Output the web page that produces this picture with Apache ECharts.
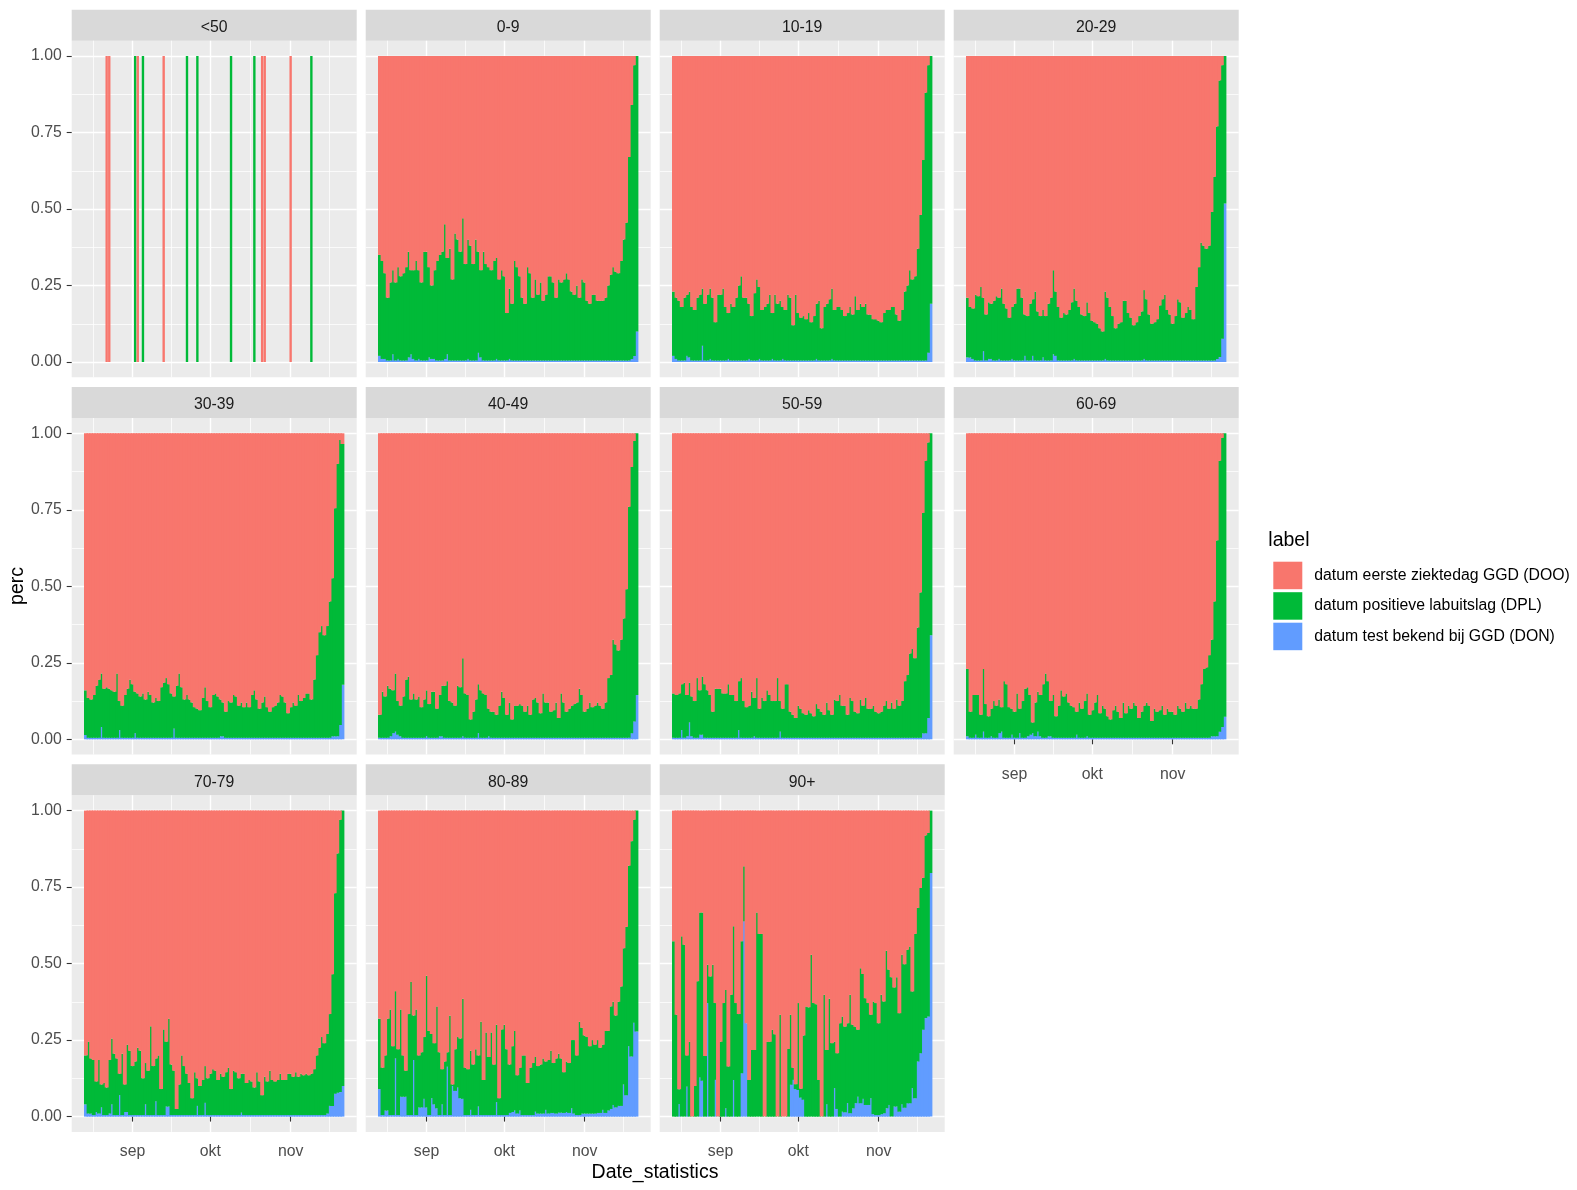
<!DOCTYPE html>
<html>
<head>
<meta charset="utf-8">
<script src="https://cdn.jsdelivr.net/npm/echarts@6/dist/echarts.min.js"></script>
<style>html,body{margin:0;padding:0;background:#ffffff}#c{width:1577px;height:1190px}</style>
</head>
<body>
<div id="c"></div>
<script>
// ---------------- data ----------------
const facetNames = ['<50','0-9','10-19','20-29','30-39','40-49','50-59','60-69','70-79','80-89','90+'];
const seriesNames = ['datum eerste ziektedag GGD (DOO)','datum positieve labuitslag (DPL)','datum test bekend bij GGD (DON)'];
const seriesColors = ['#F8766D','#00BA38','#619CFF'];
const tickDates = ['2020-09-01','2020-10-01','2020-11-01'];
const tickLabels = ['sep','okt','nov'];
const axisFirstDay = '2020-08-09', axisDayCount = 110;
const dataFirstDay = '2020-08-14', dataDayCount = 100;

// <50 : only a few days
const lt50Dates = ['2020-08-22','2020-08-23','2020-09-02','2020-09-03','2020-09-05','2020-09-13','2020-09-22','2020-09-26','2020-10-09','2020-10-18','2020-10-21','2020-10-22','2020-11-01','2020-11-09'];
const lt50DOO = [1,1,0,1,0,1,0,0,0,0,1,1,1,0];
const lt50DPL = [0,0,1,0,1,0,1,1,1,1,0,0,0,1];
const lt50DON = [0,0,0,0,0,0,0,0,0,0,0,0,0,0];

const DOO_0_9 = [.65,.67,.71,.79,.74,.70,.74,.69,.72,.71, .69,.64,.70,.70,.67,.70,.74,.64,.64,.69, .75,.70,.67,.65,.64,.55,.66,.63,.73,.58, .60,.64,.53,.68,.60,.62,.68,.60,.64,.70, .64,.68,.69,.70,.67,.66,.73,.70,.72,.84, .76,.81,.67,.69,.72,.79,.81,.69,.71,.79, .73,.78,.74,.80,.78,.72,.72,.74,.79,.73, .74,.73,.71,.73,.77,.78,.75,.79,.73,.74, .80,.81,.78,.78,.80,.80,.80,.79,.75,.715, .69,.705,.71,.67,.60,.545,.33,.16,.03,0];
const DPL_0_9 = [.33,.32,.28,.205,.255,.275,.255,.30,.275,.285, .305,.345,.275,.29,.325,.29,.255,.355,.355,.295, .24,.29,.325,.345,.355,.44,.315,.365,.265,.415, .395,.355,.465,.315,.39,.375,.315,.395,.33,.285, .355,.315,.305,.295,.325,.33,.265,.295,.275,.155, .23,.185,.325,.305,.275,.205,.185,.305,.285,.205, .265,.215,.255,.195,.215,.275,.275,.255,.205,.265, .255,.265,.285,.265,.225,.215,.245,.205,.265,.255, .195,.185,.215,.215,.195,.195,.195,.205,.245,.28, .305,.29,.285,.325,.395,.45,.665,.83,.95,.90];
const DON_0_9 = [.02,.01,.01,.005,.005,.025,.005,.01,.005,.005, .005,.015,.025,.01,.005,.01,.005,.005,.005,.015, .01,.01,.005,.005,.005,.01,.025,.005,.005,.005, .005,.005,.005,.005,.01,.005,.005,.005,.03,.015, .005,.005,.005,.005,.005,.01,.005,.005,.005,.005, .01,.005,.005,.005,.005,.005,.005,.005,.005,.005, .005,.005,.005,.005,.005,.005,.005,.005,.005,.005, .005,.005,.005,.005,.005,.005,.005,.005,.005,.005, .005,.005,.005,.005,.005,.005,.005,.005,.005,.005, .005,.005,.005,.005,.005,.005,.005,.01,.02,.10];

const DOO_10_19 = [.77,.79,.80,.82,.79,.78,.77,.82,.83,.79, .78,.76,.81,.78,.76,.79,.87,.78,.78,.76, .82,.84,.81,.82,.79,.75,.72,.79,.79,.81, .85,.775,.73,.755,.83,.82,.81,.78,.84,.78, .81,.80,.82,.83,.78,.79,.88,.78,.84,.855, .85,.86,.84,.87,.85,.81,.80,.89,.82,.81, .795,.76,.83,.82,.82,.83,.85,.84,.82,.845, .785,.83,.81,.82,.81,.845,.845,.86,.86,.865, .87,.84,.83,.83,.82,.82,.845,.865,.83,.77, .75,.70,.73,.72,.63,.52,.34,.12,.03,0];
const DPL_10_19 = [.21,.20,.195,.175,.205,.20,.215,.175,.165,.205, .215,.187,.185,.215,.23,.205,.125,.215,.215,.235, .175,.15,.185,.175,.205,.245,.275,.205,.205,.18, .145,.22,.265,.235,.165,.175,.185,.215,.15,.215, .185,.195,.17,.165,.215,.205,.115,.215,.155,.14, .145,.135,.155,.125,.145,.18,.195,.105,.175,.185, .20,.23,.165,.175,.175,.165,.145,.155,.175,.15, .21,.165,.185,.175,.185,.15,.15,.135,.135,.13, .125,.155,.165,.165,.175,.175,.15,.13,.165,.225, .245,.295,.265,.275,.365,.475,.655,.875,.94,.81];
const DON_10_19 = [.02,.01,.005,.005,.005,.02,.015,.005,.005,.005, .005,.053,.005,.005,.01,.005,.005,.005,.005,.005, .005,.01,.005,.005,.005,.005,.005,.005,.005,.01, .005,.005,.005,.01,.005,.005,.005,.005,.01,.005, .005,.005,.01,.005,.005,.005,.005,.005,.005,.005, .005,.005,.005,.005,.005,.01,.005,.005,.005,.005, .005,.01,.005,.005,.005,.005,.005,.005,.005,.005, .005,.005,.005,.005,.005,.005,.005,.005,.005,.005, .005,.005,.005,.005,.005,.005,.005,.005,.005,.005, .005,.005,.005,.005,.005,.005,.005,.005,.03,.19];

const DOO_20_29 = [.79,.82,.825,.78,.785,.755,.79,.845,.805,.81, .80,.785,.79,.76,.81,.825,.855,.82,.81,.76, .76,.79,.845,.85,.81,.795,.77,.835,.85,.83, .85,.81,.79,.70,.77,.82,.855,.84,.845,.83, .805,.76,.80,.82,.845,.85,.805,.84,.865,.87, .875,.89,.90,.77,.79,.82,.85,.89,.875,.87, .80,.80,.84,.855,.88,.87,.85,.835,.765,.795, .845,.875,.87,.86,.815,.795,.78,.83,.845,.875, .85,.795,.805,.855,.84,.82,.83,.86,.755,.69, .61,.62,.63,.62,.51,.395,.23,.08,.03,0];
const DPL_20_29 = [.195,.165,.165,.215,.21,.24,.175,.15,.185,.18, .195,.21,.20,.235,.185,.17,.14,.17,.185,.235, .235,.205,.135,.145,.185,.185,.225,.16,.145,.155, .145,.185,.205,.275,.21,.175,.14,.155,.15,.165, .19,.23,.195,.175,.15,.145,.19,.155,.13,.125, .12,.105,.095,.22,.205,.175,.145,.105,.12,.125, .195,.195,.155,.14,.115,.125,.145,.16,.225,.20, .15,.12,.125,.135,.18,.20,.215,.165,.15,.12, .145,.20,.19,.14,.155,.175,.165,.135,.24,.305, .385,.375,.365,.375,.485,.60,.76,.904,.894,.482];
const DON_20_29 = [.015,.015,.01,.005,.005,.005,.035,.005,.01,.01, .005,.005,.01,.005,.005,.005,.005,.01,.005,.005, .005,.005,.02,.005,.005,.02,.005,.005,.005,.015, .005,.005,.005,.025,.02,.005,.005,.005,.005,.005, .005,.01,.005,.005,.005,.005,.005,.005,.005,.005, .005,.005,.005,.01,.005,.005,.005,.005,.005,.005, .005,.005,.005,.005,.005,.005,.005,.005,.01,.005, .005,.005,.005,.005,.005,.005,.005,.005,.005,.005, .005,.005,.005,.005,.005,.005,.005,.005,.005,.005, .005,.005,.005,.005,.005,.005,.01,.016,.076,.518];

const DOO_30_39 = [.84,.865,.87,.855,.825,.805,.785,.835,.83,.835, .84,.845,.785,.875,.89,.855,.835,.805,.82,.845, .85,.86,.85,.87,.845,.855,.88,.865,.875,.83, .815,.80,.82,.85,.86,.825,.785,.83,.87,.855, .87,.88,.895,.90,.905,.865,.83,.875,.895,.855, .85,.86,.87,.88,.91,.875,.88,.855,.86,.89, .88,.895,.88,.895,.855,.84,.87,.90,.88,.86, .895,.91,.895,.89,.88,.855,.86,.88,.915,.895, .88,.89,.855,.875,.865,.85,.85,.87,.805,.725, .65,.63,.66,.63,.55,.474,.245,.10,.022,.035];
const DPL_30_39 = [.146,.13,.125,.14,.17,.19,.175,.16,.165,.16, .155,.15,.21,.095,.105,.14,.16,.19,.175,.135, .145,.135,.145,.125,.15,.14,.115,.13,.12,.165, .18,.195,.175,.145,.105,.17,.21,.165,.125,.14, .125,.115,.10,.095,.09,.13,.165,.12,.10,.14, .145,.135,.12,.11,.085,.12,.115,.14,.135,.105, .115,.10,.115,.10,.14,.155,.125,.095,.115,.135, .10,.085,.10,.105,.115,.14,.135,.115,.08,.10, .115,.105,.14,.12,.13,.145,.145,.125,.19,.27, .345,.365,.335,.365,.445,.516,.745,.89,.931,.787];
const DON_30_39 = [.014,.005,.005,.005,.005,.005,.04,.005,.005,.005, .005,.005,.005,.03,.005,.005,.005,.005,.005,.02, .005,.005,.005,.005,.005,.005,.005,.005,.005,.005, .005,.005,.005,.005,.035,.005,.005,.005,.005,.005, .005,.005,.005,.005,.005,.005,.005,.005,.005,.005, .005,.005,.01,.01,.005,.005,.005,.005,.005,.005, .005,.005,.005,.005,.005,.005,.005,.005,.005,.005, .005,.005,.005,.005,.005,.005,.005,.005,.005,.005, .005,.005,.005,.005,.005,.005,.005,.005,.005,.005, .005,.005,.005,.005,.005,.01,.01,.01,.047,.178];

const DOO_40_49 = [.92,.845,.86,.825,.835,.84,.785,.875,.89,.86, .805,.795,.87,.85,.87,.86,.895,.87,.84,.885, .845,.845,.90,.855,.825,.825,.81,.875,.88,.89, .825,.83,.735,.85,.855,.935,.91,.87,.82,.84, .85,.855,.90,.91,.91,.92,.89,.845,.865,.92, .88,.935,.89,.89,.885,.89,.91,.89,.92,.87, .865,.88,.915,.85,.88,.88,.91,.905,.88,.93, .85,.88,.91,.90,.89,.885,.88,.835,.855,.91, .90,.88,.895,.89,.88,.89,.90,.88,.80,.79, .675,.69,.71,.675,.605,.51,.24,.11,.025,0];
const DPL_40_49 = [.075,.15,.135,.17,.155,.14,.19,.11,.10,.135, .19,.20,.125,.145,.125,.135,.10,.125,.15,.11, .15,.15,.095,.135,.165,.17,.185,.12,.115,.105, .17,.165,.255,.145,.14,.06,.085,.125,.16,.155, .145,.14,.09,.085,.085,.075,.105,.15,.13,.075, .115,.06,.105,.105,.11,.105,.085,.105,.075,.125, .13,.115,.08,.145,.115,.115,.085,.09,.115,.065, .145,.115,.085,.095,.105,.11,.115,.16,.14,.085, .095,.115,.10,.105,.115,.105,.095,.115,.195,.205, .32,.305,.285,.32,.39,.485,.755,.87,.917,.855];
const DON_40_49 = [.005,.005,.005,.005,.01,.02,.025,.015,.01,.005, .005,.005,.005,.005,.005,.005,.005,.005,.01,.005, .005,.005,.005,.01,.01,.005,.005,.005,.005,.005, .005,.005,.01,.005,.005,.005,.005,.005,.02,.005, .005,.005,.01,.005,.005,.005,.005,.005,.005,.005, .005,.005,.005,.005,.005,.005,.005,.005,.005,.005, .005,.005,.005,.005,.005,.005,.005,.005,.005,.005, .005,.005,.005,.005,.005,.005,.005,.005,.005,.005, .005,.005,.005,.005,.005,.005,.005,.005,.005,.005, .005,.005,.005,.005,.005,.005,.005,.02,.058,.145];

const DOO_50_59 = [.85,.855,.85,.82,.815,.855,.815,.86,.875,.80, .84,.795,.82,.84,.855,.91,.835,.835,.835,.85, .85,.82,.855,.855,.875,.81,.80,.875,.895,.89, .845,.865,.80,.90,.865,.875,.84,.855,.875,.875, .80,.875,.90,.82,.82,.91,.92,.93,.89,.90, .915,.92,.905,.915,.925,.885,.90,.91,.92,.88, .905,.92,.87,.875,.855,.89,.89,.92,.865,.875, .91,.915,.87,.89,.865,.90,.90,.89,.91,.915, .91,.89,.875,.90,.88,.90,.87,.89,.875,.81, .79,.72,.705,.735,.635,.52,.26,.09,.03,0];
const DPL_50_59 = [.145,.14,.145,.15,.18,.135,.13,.13,.12,.195, .145,.19,.175,.155,.14,.085,.16,.16,.16,.145, .145,.175,.14,.14,.12,.16,.195,.12,.10,.105, .15,.125,.195,.095,.13,.12,.155,.14,.12,.12, .195,.10,.095,.175,.175,.085,.075,.065,.105,.095, .08,.075,.09,.08,.07,.11,.095,.085,.075,.115, .09,.075,.125,.12,.14,.105,.105,.075,.13,.12, .085,.08,.125,.105,.13,.095,.095,.105,.085,.08, .085,.105,.12,.095,.115,.095,.125,.105,.12,.185, .205,.275,.29,.26,.36,.475,.72,.89,.90,.66];
const DON_50_59 = [.005,.005,.005,.03,.005,.01,.055,.01,.005,.005, .015,.015,.005,.005,.005,.005,.005,.005,.005,.005, .005,.005,.005,.005,.005,.03,.005,.005,.005,.005, .005,.01,.005,.005,.005,.005,.005,.005,.005,.005, .005,.025,.005,.005,.005,.005,.005,.005,.005,.005, .005,.005,.005,.005,.005,.005,.005,.005,.005,.005, .005,.005,.005,.005,.005,.005,.005,.005,.005,.005, .005,.005,.005,.005,.005,.005,.005,.005,.005,.005, .005,.005,.005,.005,.005,.005,.005,.005,.005,.005, .005,.005,.005,.005,.005,.005,.02,.02,.07,.34];

const DOO_60_69 = [.77,.91,.855,.855,.855,.92,.77,.885,.925,.90, .875,.89,.87,.895,.81,.82,.895,.90,.91,.85, .90,.875,.835,.83,.855,.945,.88,.845,.855,.82, .785,.81,.875,.855,.925,.89,.84,.86,.85,.88, .89,.895,.91,.88,.90,.875,.85,.92,.905,.88, .855,.915,.89,.90,.925,.935,.905,.89,.91,.93, .88,.915,.89,.90,.88,.89,.93,.91,.89,.88, .89,.94,.90,.91,.905,.89,.92,.90,.91,.91, .92,.89,.90,.91,.88,.90,.89,.90,.90,.87, .82,.77,.765,.725,.675,.55,.35,.09,.015,0];
const DPL_60_69 = [.22,.085,.14,.13,.14,.075,.205,.11,.07,.09, .12,.105,.11,.08,.185,.175,.10,.085,.085,.145, .08,.12,.16,.16,.13,.035,.11,.13,.135,.175, .21,.18,.115,.14,.07,.105,.155,.135,.145,.115, .105,.10,.075,.115,.095,.12,.14,.075,.09,.115, .14,.08,.105,.095,.07,.06,.09,.105,.085,.065, .115,.08,.105,.095,.115,.105,.065,.085,.105,.115, .105,.055,.095,.085,.09,.105,.075,.095,.085,.085, .075,.105,.095,.085,.115,.095,.105,.095,.095,.125, .175,.225,.23,.27,.315,.44,.64,.885,.945,.926];
const DON_60_69 = [.01,.005,.005,.015,.005,.005,.025,.005,.005,.01, .005,.005,.02,.025,.005,.005,.005,.015,.005,.005, .02,.005,.005,.01,.015,.02,.01,.025,.01,.005, .005,.01,.01,.005,.005,.005,.005,.005,.005,.005, .005,.005,.015,.005,.005,.005,.01,.005,.005,.005, .005,.005,.005,.005,.005,.005,.005,.005,.005,.005, .005,.005,.005,.005,.005,.005,.005,.005,.005,.005, .005,.005,.005,.005,.005,.005,.005,.005,.005,.005, .005,.005,.005,.005,.005,.005,.005,.005,.005,.005, .005,.005,.005,.005,.01,.01,.01,.025,.04,.074];

const DOO_70_79 = [.80,.755,.81,.815,.885,.815,.895,.89,.905,.815, .745,.795,.81,.86,.795,.895,.765,.785,.835,.82, .775,.785,.875,.825,.85,.705,.835,.81,.80,.91, .715,.755,.68,.83,.85,.975,.895,.80,.835,.86, .89,.94,.855,.875,.90,.88,.835,.875,.86,.845, .85,.88,.86,.87,.855,.84,.91,.85,.855,.875, .86,.86,.89,.88,.885,.905,.855,.885,.93,.87, .885,.85,.88,.885,.88,.86,.88,.88,.86,.86, .87,.855,.87,.86,.865,.86,.865,.86,.845,.80, .775,.74,.76,.73,.665,.535,.27,.14,.03,0];
const DPL_70_79 = [.16,.235,.18,.18,.10,.175,.075,.105,.09,.175, .215,.20,.185,.07,.20,.09,.22,.21,.16,.175, .22,.21,.12,.135,.145,.29,.16,.14,.195,.085, .28,.212,.287,.165,.145,.02,.10,.195,.16,.135, .105,.055,.14,.09,.095,.115,.12,.12,.135,.15, .145,.115,.135,.125,.14,.155,.085,.145,.14,.12, .127,.135,.105,.115,.11,.09,.14,.11,.065,.125, .11,.145,.115,.11,.115,.135,.115,.115,.135,.135, .125,.14,.125,.135,.13,.135,.13,.135,.15,.195, .22,.255,.235,.26,.30,.43,.655,.782,.89,.90];
const DON_70_79 = [.04,.01,.01,.005,.015,.01,.03,.005,.005,.01, .04,.005,.005,.07,.005,.015,.015,.005,.005,.005, .005,.005,.005,.04,.005,.005,.005,.05,.005,.005, .005,.033,.033,.005,.005,.005,.005,.005,.005,.005, .005,.005,.005,.035,.005,.005,.045,.005,.005,.005, .005,.005,.005,.005,.005,.005,.005,.005,.005,.005, .013,.005,.005,.005,.005,.005,.005,.005,.005,.005, .005,.005,.005,.005,.005,.005,.005,.005,.005,.005, .005,.005,.005,.005,.005,.005,.005,.005,.005,.005, .005,.005,.005,.01,.035,.035,.075,.078,.08,.10];

const DOO_80_89 = [.68,.84,.80,.68,.65,.77,.59,.78,.65,.80, .85,.665,.56,.67,.65,.80,.79,.74,.54,.72, .73,.76,.64,.79,.845,.82,.79,.67,.895,.78, .74,.745,.615,.84,.845,.785,.83,.78,.80,.69, .88,.725,.805,.725,.83,.70,.94,.715,.70,.78, .83,.77,.72,.865,.84,.80,.80,.89,.84,.825, .805,.835,.83,.81,.82,.815,.785,.825,.81,.795, .81,.855,.82,.825,.75,.75,.80,.69,.71,.735, .74,.77,.75,.765,.75,.775,.765,.72,.72,.64, .625,.67,.625,.575,.45,.38,.18,.10,.03,0];
const DPL_80_89 = [.23,.155,.18,.30,.345,.225,.22,.215,.285,.135, .085,.33,.435,.145,.345,.17,.18,.202,.43,.275, .21,.20,.333,.205,.115,.175,.047,.325,.005,.136, .165,.195,.327,.155,.15,.193,.165,.215,.167,.305, .115,.27,.19,.27,.165,.253,.055,.28,.295,.215, .158,.215,.26,.125,.14,.195,.195,.105,.155,.17, .179,.155,.16,.18,.158,.175,.203,.163,.18,.192, .177,.133,.165,.163,.223,.24,.195,.305,.28,.255, .25,.22,.24,.225,.238,.213,.213,.268,.26,.335, .337,.30,.34,.39,.445,.55,.59,.704,.663,.722];
const DON_80_89 = [.09,.005,.02,.02,.005,.005,.19,.005,.065,.065, .065,.005,.005,.185,.005,.03,.03,.058,.03,.005, .06,.04,.027,.005,.04,.005,.163,.005,.10,.084, .095,.06,.058,.005,.005,.022,.005,.005,.033,.005, .005,.005,.005,.005,.005,.047,.005,.005,.005,.005, .012,.015,.02,.01,.02,.005,.005,.005,.005,.005, .016,.01,.01,.01,.022,.01,.012,.012,.01,.013, .013,.012,.015,.012,.027,.01,.005,.005,.01,.01, .01,.01,.01,.01,.012,.012,.022,.012,.02,.025, .038,.03,.035,.035,.105,.07,.23,.196,.307,.278];

const DOO_90 = [.427,.667,.911,.411,.438,.80,.755,1,.90,.558, .333,.333,.802,.504,.542,.504,.629,1,.755,.629, .586,.836,.602,.378,.629,.665,.427,.182,.695,.88, .782,.782,.333,.403,.403,1,.755,.755,.716,.731, 1,.667,1,1,.779,.667,.84,.894,.629,.909, .735,.64,.643,.471,.629,.633,.88,1,.602,.782, .615,.76,.755,.793,.695,.673,.706,.695,.602,.70, .706,.716,.515,.534,.613,.629,.667,.624,.629,.695, .602,.624,.458,.52,.545,.578,.545,.662,.471,.502, .455,.444,.591,.403,.318,.253,.22,.081,.073,0];
const DPL_90 = [.573,.333,.048,.589,.562,.102,.245,0,.10,.442, .539,.55,.198,.125,.458,.496,.251,0,.245,.371, .387,.164,.398,.502,.371,.335,.431,.18,0,.12, .218,.218,.667,.597,.597,0,.245,.245,.284,.269, 0,.333,0,0,.221,.229,.04,.016,.284,.029, .21,.36,.357,.529,.371,.367,.12,0,.398,.178, .385,.24,.152,.182,.305,.311,.28,.261,.387,.273, .25,.219,.441,.408,.349,.333,.273,.368,.366,.30, .39,.365,.515,.442,.455,.389,.422,.322,.489,.469, .501,.512,.316,.537,.502,.54,.496,.597,.60,.204];
const DON_90 = [0,0,.041,0,0,.098,0,0,0,0, .128,.117,0,.371,0,0,.12,0,0,0, .027,0,0,.12,0,0,.142,.638,.305,0, 0,0,0,0,0,0,0,0,0,0, 0,0,0,0,0,.104,.12,.09,.087,.062, .055,0,0,0,0,0,0,0,0,.04, 0,0,.093,.025,0,.016,.014,.044,.011,.027, .044,.065,.044,.058,.038,.038,.06,.008,.005,.005, .008,.011,.027,.038,0,.033,.033,.016,.04,.029, .044,.044,.093,.06,.18,.207,.284,.322,.327,.796];

// ---------------- helpers ----------------
const DAY = 86400000;
function parseDay(s){ const p = s.split('-').map(Number); return Date.UTC(p[0], p[1]-1, p[2]); }
function dayList(start, n){ const t0 = parseDay(start); return Array.from({length:n}, (_, i) => new Date(t0 + i*DAY).toISOString().slice(0,10)); }
const axisDays = dayList(axisFirstDay, axisDayCount);
const dataDays = dayList(dataFirstDay, dataDayCount);

// half-day positions for the gridlines (ggplot puts breaks at the date itself)
const halfIndex = s => 2*Math.round((parseDay(s) - parseDay(axisFirstDay))/DAY) + 1;
const halfSteps = Array.from({length: 2*axisDayCount + 1}, (_, i) => String(i));
const majorHalf = tickDates.map(halfIndex);
const extBreaks = [majorHalf[0] - 60].concat(majorHalf, [majorHalf[majorHalf.length-1] + 60]);
const minorHalf = [];
for (let i = 0; i < extBreaks.length-1; i++) minorHalf.push((extBreaks[i] + extBreaks[i+1]) / 2);

const facetDates = [lt50Dates].concat(Array(10).fill(dataDays));
const facetDOO = [lt50DOO, DOO_0_9, DOO_10_19, DOO_20_29, DOO_30_39, DOO_40_49, DOO_50_59, DOO_60_69, DOO_70_79, DOO_80_89, DOO_90];
const facetDPL = [lt50DPL, DPL_0_9, DPL_10_19, DPL_20_29, DPL_30_39, DPL_40_49, DPL_50_59, DPL_60_69, DPL_70_79, DPL_80_89, DPL_90];
const facetDON = [lt50DON, DON_0_9, DON_10_19, DON_20_29, DON_30_39, DON_40_49, DON_50_59, DON_60_69, DON_70_79, DON_80_89, DON_90];

function alignToAxis(dates, vals){
  const m = new Map(dates.map((d, i) => [d, vals[i]]));
  return axisDays.map(d => m.has(d) ? m.get(d) : null);
}

// ---------------- layout ----------------
const FONT = "'Liberation Sans', Arial, Helvetica, sans-serif";
const colLeft = [71.7, 365.7, 659.7, 953.7];
const rowTop = [40.7, 418.0, 795.3];
const PW = 285, PH = 336.6, PAD = 15.3, IH = 306, STRIP = 31;
const bottomFacets = [7, 8, 9, 10];

const grid = [], xAxis = [], yAxis = [], series = [], graphic = [];

facetNames.forEach((name, fi) => {
  const row = Math.floor(fi/4), col = fi % 4;
  const left = colLeft[col], top = rowTop[row];
  const isBottom = bottomFacets.includes(fi), isLeft = col === 0;
  const bgG = grid.length;
  grid.push({left, top, width: PW, height: PH, show: true, backgroundColor: '#EBEBEB', borderWidth: 0, borderColor: 'transparent', z: 0});
  const dG = grid.length;
  grid.push({left, top: top + PAD, width: PW, height: IH, show: false, z: 0});

  const mainX = xAxis.length;
  xAxis.push({
    type: 'category', gridIndex: dG, data: axisDays, boundaryGap: true, position: 'bottom', offset: PAD, z: 1,
    axisLine: {show: false}, splitLine: {show: false},
    axisTick: {show: isBottom, alignWithLabel: true, length: 5, interval: (i, v) => tickDates.includes(v), lineStyle: {color: '#333333', width: 1.1}},
    axisLabel: {show: isBottom, interval: (i, v) => tickDates.includes(v), formatter: v => tickLabels[tickDates.indexOf(v)] || '', color: '#4D4D4D', fontSize: 15.8, fontFamily: FONT, margin: 12}
  });
  xAxis.push({
    type: 'category', gridIndex: bgG, data: halfSteps, boundaryGap: false, z: 0,
    axisLine: {show: false}, axisTick: {show: false}, axisLabel: {show: false},
    splitLine: {show: true, interval: i => majorHalf.includes(i), lineStyle: {color: '#FFFFFF', width: 1.45}}
  });
  xAxis.push({
    type: 'category', gridIndex: bgG, data: halfSteps, boundaryGap: false, z: 0,
    axisLine: {show: false}, axisTick: {show: false}, axisLabel: {show: false},
    splitLine: {show: true, interval: i => minorHalf.includes(i), lineStyle: {color: '#FFFFFF', width: 0.75}}
  });

  const mainY = yAxis.length;
  yAxis.push({
    type: 'value', gridIndex: dG, min: 0, max: 1, interval: 0.25, z: 1,
    axisLine: {show: false},
    axisTick: {show: isLeft, length: 5, lineStyle: {color: '#333333', width: 1.1}},
    axisLabel: {show: isLeft, formatter: v => v.toFixed(2), color: '#4D4D4D', fontSize: 15.8, fontFamily: FONT, margin: 10},
    splitLine: {show: true, lineStyle: {color: '#FFFFFF', width: 1.45}},
    minorTick: {show: false, splitNumber: 2},
    minorSplitLine: {show: true, lineStyle: {color: '#FFFFFF', width: 0.75}}
  });
  yAxis.push({type: 'value', gridIndex: bgG, show: false});

  // daily bars sit edge to edge: draw them slightly wider so antialiased seams are covered
  const bw = fi === 0 ? '92%' : '150%';
  const stacks = [[facetDON[fi], 2], [facetDPL[fi], 1], [facetDOO[fi], 0]];
  stacks.forEach(([vals, k]) => {
    series.push({
      type: 'bar', name: seriesNames[k], xAxisIndex: mainX, yAxisIndex: mainY, stack: 'f' + fi,
      data: alignToAxis(facetDates[fi], vals), barWidth: bw, barCategoryGap: '0%',
      itemStyle: {color: seriesColors[k]},
      silent: true, emphasis: {disabled: true}
    });
  });

  graphic.push({type: 'rect', silent: true, shape: {x: left, y: top - STRIP, width: PW, height: STRIP}, style: {fill: '#D9D9D9'}});
  graphic.push({type: 'text', silent: true, x: left + PW/2, y: top - STRIP/2 + 2.5, style: {text: name, fontSize: 15.8, fontFamily: FONT, fill: '#1A1A1A', align: 'center', verticalAlign: 'middle'}});
});

graphic.push({type: 'text', silent: true, x: 18, y: 586, rotation: Math.PI/2, style: {text: 'perc', fontSize: 19.5, fontFamily: FONT, fill: '#000000', align: 'center', verticalAlign: 'middle'}});
graphic.push({type: 'text', silent: true, x: 655, y: 1173, style: {text: 'Date_statistics', fontSize: 19.5, fontFamily: FONT, fill: '#000000', align: 'center', verticalAlign: 'middle'}});
graphic.push({type: 'text', silent: true, x: 1268.3, y: 541, style: {text: 'label', fontSize: 19.5, fontFamily: FONT, fill: '#000000', align: 'left', verticalAlign: 'middle'}});

const chart = echarts.init(document.getElementById('c'), null, {renderer: 'canvas'});
chart.setOption({
  backgroundColor: '#FFFFFF',
  animation: false,
  textStyle: {fontFamily: FONT},
  grid, xAxis, yAxis, series, graphic,
  legend: {
    data: seriesNames, orient: 'vertical', left: 1268.3, top: 556.7, itemWidth: 29, itemHeight: 27.5, itemGap: 3,
    icon: 'rect', selectedMode: false,
    textStyle: {fontSize: 15.8, color: '#000000', fontFamily: FONT, padding: [0, 0, 0, 7]}
  }
});
</script>
</body>
</html>
